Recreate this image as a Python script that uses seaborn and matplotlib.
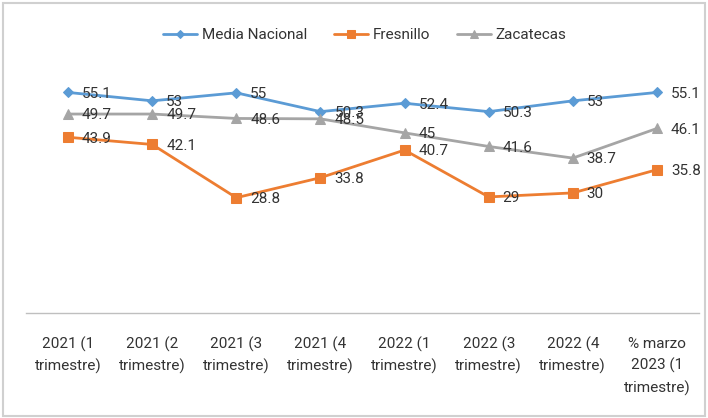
import pandas as pd
import matplotlib.pyplot as plt
import seaborn as sns

# Data
periods = ['2021 (1\ntrimestre)', '2021 (2\ntrimestre)', '2021 (3\ntrimestre)',
           '2021 (4\ntrimestre)', '2022 (1\ntrimestre)', '2022 (3\ntrimestre)',
           '2022 (4\ntrimestre)', '% marzo\n2023 (1\ntrimestre)']
media_nacional = [55.1, 53, 55, 50.3, 52.4, 50.3, 53, 55.1]
fresnillo = [43.9, 42.1, 28.8, 33.8, 40.7, 29, 30, 35.8]
zacatecas = [49.7, 49.7, 48.6, 48.5, 45, 41.6, 38.7, 46.1]

series_names = ['Media Nacional', 'Fresnillo', 'Zacatecas']
colors = ['#5B9BD5', '#ED7D31', '#A5A5A5']
markers = ['D', 's', '^']
msizes = [5.5, 7, 6.5]

df = pd.DataFrame({
    'pos': list(range(len(periods))) * 3,
    'valor': media_nacional + fresnillo + zacatecas,
    'serie': [s for s in series_names for _ in periods],
})

sns.set_style('white')
plt.rcParams['font.family'] = ['Roboto', 'DejaVu Sans']

fig = plt.figure(figsize=(7.08, 4.18), dpi=100)
ax = fig.add_axes([0.0367, 0.2512, 0.9506, 0.5746])

for name, col, mk, ms in zip(series_names, colors, markers, msizes):
    sub = df[df['serie'] == name]
    sns.lineplot(data=sub, x='pos', y='valor', ax=ax, color=col, marker=mk,
                 markersize=ms, markeredgecolor=col, linewidth=2, label=name)
    for x, y in zip(sub['pos'], sub['valor']):
        ax.annotate(f'{y:g}', (x, y), xytext=(10, -1), textcoords='offset points',
                    ha='left', va='center', fontsize=11, color='#333333')

ax.set_xlim(-0.5, len(periods) - 0.5)
ax.set_ylim(0, 60)
ax.set_xticks(range(len(periods)))
ax.set_xticklabels(periods, fontsize=11, color='#333333', linespacing=1.6)
ax.tick_params(axis='x', length=0, pad=17)
ax.set_yticks([])
ax.set_xlabel('')
ax.set_ylabel('')
for side in ['top', 'right', 'left']:
    ax.spines[side].set_visible(False)
ax.spines['bottom'].set_color('#BFBFBF')
ax.spines['bottom'].set_linewidth(1)

leg = ax.legend(loc='center', bbox_to_anchor=(365 / 708, 1 - 35 / 418),
                bbox_transform=fig.transFigure, ncol=3, frameon=False,
                fontsize=11, handlelength=2.2, columnspacing=1.8,
                handletextpad=0.3, markerscale=0.8)
for t in leg.get_texts():
    t.set_color('#333333')

# outer chart border
fig.patches.append(plt.Rectangle((0.004, 0.004), 0.992, 0.99, transform=fig.transFigure,
                                 fill=False, edgecolor='#D0D0D0', linewidth=1.5))

fig.savefig('out.png', dpi=100)
